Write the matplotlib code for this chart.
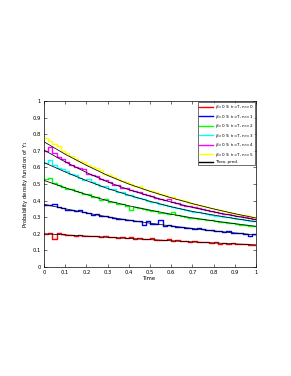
import numpy as np
import matplotlib
matplotlib.use("Agg")
import matplotlib.pyplot as plt

# theoretical curves, read at t = 0, 0.1, ..., 1
t_theo = [0.0, 0.1, 0.2, 0.3, 0.4, 0.5, 0.6, 0.7, 0.8, 0.9, 1.0]
theo_n0 = [0.200, 0.193, 0.186, 0.179, 0.172, 0.165, 0.158, 0.151, 0.145, 0.139, 0.133]
theo_n1 = [0.378, 0.351, 0.326, 0.302, 0.282, 0.264, 0.247, 0.232, 0.217, 0.205, 0.193]
theo_n2 = [0.522, 0.478, 0.437, 0.399, 0.369, 0.343, 0.318, 0.296, 0.278, 0.261, 0.245]
theo_n3 = [0.630, 0.573, 0.521, 0.473, 0.433, 0.396, 0.363, 0.335, 0.313, 0.292, 0.273]
theo_n4 = [0.705, 0.634, 0.570, 0.513, 0.466, 0.427, 0.391, 0.359, 0.332, 0.307, 0.285]
theo_n5 = [0.755, 0.680, 0.613, 0.552, 0.500, 0.456, 0.417, 0.382, 0.350, 0.321, 0.295]

# simulated histograms, 50 bins on [0, 1]
sim_n0 = [0.198, 0.206, 0.168, 0.204, 0.196, 0.192, 0.190, 0.188, 0.192, 0.186,
          0.188, 0.184, 0.186, 0.182, 0.186, 0.180, 0.182, 0.176, 0.178, 0.174,
          0.178, 0.170, 0.172, 0.170, 0.168, 0.172, 0.164, 0.162, 0.160, 0.170,
          0.156, 0.160, 0.156, 0.158, 0.150, 0.154, 0.150, 0.152, 0.148, 0.144,
          0.148, 0.140, 0.146, 0.140, 0.142, 0.136, 0.140, 0.138, 0.130, 0.134]
sim_n1 = [0.376, 0.372, 0.380, 0.362, 0.356, 0.344, 0.346, 0.336, 0.342, 0.330,
          0.324, 0.316, 0.322, 0.306, 0.306, 0.300, 0.296, 0.290, 0.290, 0.282,
          0.282, 0.276, 0.276, 0.256, 0.276, 0.260, 0.262, 0.282, 0.250, 0.252,
          0.248, 0.242, 0.244, 0.236, 0.236, 0.228, 0.232, 0.226, 0.222, 0.220,
          0.216, 0.218, 0.210, 0.214, 0.206, 0.206, 0.202, 0.198, 0.188, 0.196]
sim_n2 = [0.530, 0.536, 0.504, 0.492, 0.484, 0.470, 0.472, 0.458, 0.450, 0.438,
          0.438, 0.424, 0.420, 0.406, 0.408, 0.394, 0.392, 0.382, 0.380, 0.370,
          0.342, 0.364, 0.356, 0.348, 0.346, 0.338, 0.336, 0.328, 0.326, 0.322,
          0.334, 0.312, 0.306, 0.304, 0.298, 0.296, 0.290, 0.290, 0.282, 0.282,
          0.276, 0.274, 0.270, 0.266, 0.264, 0.262, 0.256, 0.254, 0.250, 0.248]
sim_n3 = [0.628, 0.648, 0.612, 0.598, 0.592, 0.578, 0.560, 0.554, 0.536, 0.522,
          0.528, 0.510, 0.502, 0.488, 0.486, 0.470, 0.468, 0.452, 0.452, 0.436,
          0.432, 0.422, 0.414, 0.412, 0.400, 0.392, 0.394, 0.380, 0.376, 0.366,
          0.364, 0.354, 0.352, 0.346, 0.340, 0.332, 0.330, 0.326, 0.318, 0.316,
          0.310, 0.308, 0.302, 0.300, 0.294, 0.292, 0.288, 0.284, 0.280, 0.276]
sim_n4 = [0.700, 0.722, 0.690, 0.662, 0.650, 0.632, 0.612, 0.605, 0.598, 0.590,
          0.560, 0.556, 0.548, 0.530, 0.526, 0.512, 0.495, 0.494, 0.478, 0.474,
          0.466, 0.456, 0.450, 0.440, 0.432, 0.428, 0.418, 0.410, 0.404, 0.410,
          0.390, 0.383, 0.376, 0.370, 0.366, 0.360, 0.354, 0.348, 0.344, 0.338,
          0.333, 0.328, 0.322, 0.318, 0.314, 0.310, 0.305, 0.300, 0.296, 0.291]
sim_n5 = [0.775, 0.760, 0.742, 0.728, 0.702, 0.690, 0.668, 0.650, 0.640, 0.630,
          0.612, 0.600, 0.595, 0.585, 0.563, 0.552, 0.545, 0.530, 0.520, 0.512,
          0.500, 0.490, 0.486, 0.472, 0.465, 0.456, 0.450, 0.442, 0.432, 0.424,
          0.420, 0.410, 0.402, 0.396, 0.388, 0.382, 0.375, 0.368, 0.362, 0.357,
          0.350, 0.344, 0.338, 0.333, 0.327, 0.322, 0.316, 0.312, 0.305, 0.300]

labels = [r"$\beta$=0.9, t$_r$=T, n$_r$=%d" % i for i in range(6)]
colors = ["#ff0000", "#0000ff", "#00ff00", "#00ffff", "#ff00ff", "#ffff00"]
sims = [sim_n0, sim_n1, sim_n2, sim_n3, sim_n4, sim_n5]
theos = [theo_n0, theo_n1, theo_n2, theo_n3, theo_n4, theo_n5]

fig = plt.figure(figsize=(2.91, 3.76), dpi=100)
ax = fig.add_axes([0.151, 0.290, 0.729, 0.441])

edges = np.linspace(0, 1, len(sim_n0) + 1)
for sim, c, lab in zip(sims, colors, labels):
    vals = np.append(sim, sim[-1])
    ax.step(edges, vals, where="post", color=c, lw=1.0, label=lab)

for i, th in enumerate(theos):
    ax.plot(t_theo, th, color="k", lw=0.55,
            label="Theo. pred." if i == 0 else None)

ax.set_xlim(0, 1)
ax.set_ylim(0, 1)
ax.set_xticks(np.arange(0, 1.01, 0.1))
ax.set_xticklabels(["0", "0.1", "0.2", "0.3", "0.4", "0.5", "0.6", "0.7", "0.8", "0.9", "1"])
ax.set_yticks(np.arange(0, 1.01, 0.1))
ax.set_yticklabels(["0", "0.1", "0.2", "0.3", "0.4", "0.5", "0.6", "0.7", "0.8", "0.9", "1"])
ax.tick_params(direction="in", length=2, width=0.4, labelsize=3.8,
               top=True, right=True, pad=2)
for s in ax.spines.values():
    s.set_linewidth(0.5)
ax.set_xlabel("Time", fontsize=3.8, labelpad=1)
ax.set_ylabel("Probability density function of Y$_1$", fontsize=3.8, labelpad=2)

leg = ax.legend(loc="upper right", fontsize=3.0, frameon=True, fancybox=False,
                edgecolor="k", borderpad=0.35, labelspacing=0.35,
                handlelength=3.4, handletextpad=0.5, borderaxespad=0.15)
leg.get_frame().set_linewidth(0.5)
for h in leg.get_lines():
    h.set_linewidth(1.0)

fig.savefig("out.png", dpi=100)
